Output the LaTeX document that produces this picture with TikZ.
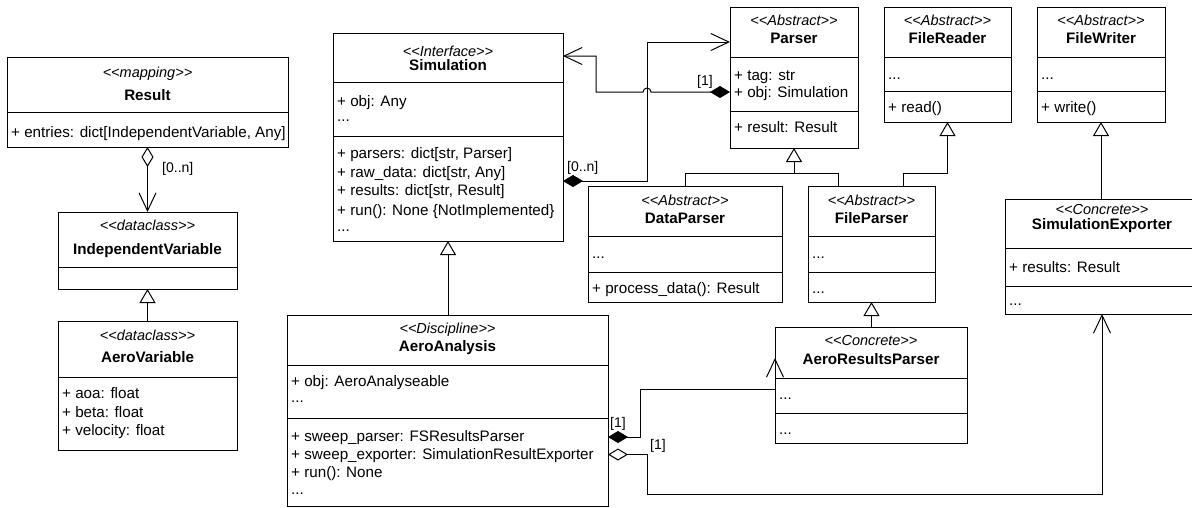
\documentclass[tikz,border=0pt]{standalone}
\usepackage{fontspec}
\setmainfont{Liberation Sans}
\usetikzlibrary{arrows.meta,calc}

\newcommand\fs{\fontsize{15.2}{18}\selectfont}
% kerns keep the font mapping from joining << and >> into guillemets
\newcommand\umlst[1]{\textless\kern0pt\textless#1\textgreater\kern0pt\textgreater}

\tikzset{
  classbox/.style={draw, line width=1pt, fill=white, inner sep=0pt, outer sep=0pt, anchor=north west},
  divider/.style={line width=1pt},
  stereo/.style={anchor=base, inner sep=0pt, font=\fontsize{14.5}{17}\selectfont\itshape},
  title/.style={anchor=base, inner sep=0pt, font=\fs\bfseries},
  member/.style={anchor=base west, inner sep=0pt, font=\fs},
  mult/.style={anchor=base west, inner sep=0pt, font=\fontsize{14}{16}\selectfont},
  link/.style={line width=1pt},
  inherit/.style={link, -{Triangle[open, length=14pt, width=16pt]}},
  comp/.style={link, {Diamond[length=20pt, width=12pt]}-{Straight Barb[length=18pt, width=17pt]}},
  aggr/.style={link, {Diamond[open, length=20pt, width=12pt]}-{Straight Barb[length=18pt, width=17pt]}},
}

% class frame: name, x1, y1, x2, y2, compartment dividers
\newcommand\umlclass[6]{%
  \node[classbox, minimum width={#4-#2}, minimum height={#5-#3}] (#1) at (#2,#3) {};
  \foreach \d in {#6} {\draw[divider] (#2,\d) -- (#4,\d);}
}

\begin{document}
\begin{tikzpicture}[x=1pt, y=-1pt]
\useasboundingbox (0,0) rectangle (1192,507);

% ---------- Result ----------
\umlclass{result}{7}{57}{288}{147}{112}
\node[stereo] (result-st) at (147.5,77) {\umlst{mapping}};
\node[title] (result-t) at (147.5,100) {Result};
\node[member] (result-a1) at (11,137) {+ entries: dict[IndependentVariable, Any]};

% ---------- IndependentVariable ----------
\umlclass{indep}{58}{212}{237}{289}{267}
\node[stereo] (indep-st) at (147.5,230) {\umlst{dataclass}};
\node[title] (indep-t) at (147.5,254) {IndependentVariable};

% ---------- AeroVariable ----------
\umlclass{aerovar}{58}{321}{237}{450}{377}
\node[stereo] (aerovar-st) at (147.5,340) {\umlst{dataclass}};
\node[title] (aerovar-t) at (147.5,362) {AeroVariable};
\node[member] (aerovar-a1) at (62,398) {+ aoa: float};
\node[member] (aerovar-a2) at (62,417) {+ beta: float};
\node[member] (aerovar-a3) at (62,435) {+ velocity: float};

% ---------- Simulation ----------
\umlclass{sim}{333}{33}{563}{241}{82,136}
\node[stereo] (sim-st) at (448,56) {\umlst{Interface}};
\node[title] (sim-t) at (448,70) {Simulation};
\node[member] (sim-a1) at (337,106) {+ obj: Any};
\node[member] (sim-a2) at (337,121) {...};
\node[member] (sim-m1) at (337,158) {+ parsers: dict[str, Parser]};
\node[member] (sim-m2) at (337,177) {+ raw\_data: dict[str, Any]};
\node[member] (sim-m3) at (337,195) {+ results: dict[str, Result]};
\node[member] (sim-m4) at (337,215) {+ run(): None \{NotImplemented\}};
\node[member] (sim-m5) at (337,231) {...};

% ---------- Parser ----------
\umlclass{parser}{730}{7}{858}{148}{57,111}
\node[stereo] (parser-st) at (794,25) {\umlst{Abstract}};
\node[title] (parser-t) at (794,43) {Parser};
\node[member] (parser-a1) at (734,80) {+ tag: str};
\node[member] (parser-a2) at (734,97) {+ obj: Simulation};
\node[member] (parser-m1) at (734,132) {+ result: Result};

% ---------- FileReader ----------
\umlclass{freader}{884}{7}{1011}{122}{57,91}
\node[stereo] (freader-st) at (947.5,25) {\umlst{Abstract}};
\node[title] (freader-t) at (947.5,43) {FileReader};
\node[member] (freader-a1) at (888,79) {...};
\node[member] (freader-m1) at (888,112) {+ read()};

% ---------- FileWriter ----------
\umlclass{fwriter}{1037}{7}{1165}{122}{57,91}
\node[stereo] (fwriter-st) at (1101,25) {\umlst{Abstract}};
\node[title] (fwriter-t) at (1101,43) {FileWriter};
\node[member] (fwriter-a1) at (1041,79) {...};
\node[member] (fwriter-m1) at (1041,112) {+ write()};

% ---------- DataParser ----------
\umlclass{dparser}{588}{186}{782}{302}{236,272}
\node[stereo] (dparser-st) at (685,205) {\umlst{Abstract}};
\node[title] (dparser-t) at (685,223) {DataParser};
\node[member] (dparser-a1) at (592,258) {...};
\node[member] (dparser-m1) at (592,293) {+ process\_data(): Result};

% ---------- FileParser ----------
\umlclass{fparser}{808}{186}{935}{302}{236,272}
\node[stereo] (fparser-st) at (871.5,205) {\umlst{Abstract}};
\node[title] (fparser-t) at (871.5,223) {FileParser};
\node[member] (fparser-a1) at (812,258) {...};
\node[member] (fparser-m1) at (812,293) {...};

% ---------- SimulationExporter ----------
\umlclass{simexp}{1005}{199}{1199}{314}{248,286}
\node[stereo] (simexp-st) at (1102,214.5) {\umlst{Concrete}};
\node[title] (simexp-t) at (1102,229) {SimulationExporter};
\node[member] (simexp-a1) at (1009,272) {+ results: Result};
\node[member] (simexp-m1) at (1009,305) {...};

% ---------- AeroResultsParser ----------
\umlclass{arp}{775}{327}{967}{443}{378,413}
\node[stereo] (arp-st) at (871,345.5) {\umlst{Concrete}};
\node[title] (arp-t) at (871,364) {AeroResultsParser};
\node[member] (arp-a1) at (779,399) {...};
\node[member] (arp-m1) at (779,434) {...};

% ---------- AeroAnalysis ----------
\umlclass{aero}{287}{315}{608}{506}{365,418}
\node[stereo] (aero-st) at (447.5,333) {\umlst{Discipline}};
\node[title] (aero-t) at (447.5,351) {AeroAnalysis};
\node[member] (aero-a1) at (291,386) {+ obj: AeroAnalyseable};
\node[member] (aero-a2) at (291,402) {...};
\node[member] (aero-m1) at (291,441) {+ sweep\_parser: FSResultsParser};
\node[member] (aero-m2) at (291,459) {+ sweep\_exporter: SimulationResultExporter};
\node[member] (aero-m3) at (291,477) {+ run(): None};
\node[member] (aero-m4) at (291,494) {...};

% ---------- generalisations ----------
\draw[inherit] (aerovar.north) -- (indep.south);
\draw[inherit] (aero.north -| sim.south) -- (sim.south);
\draw[inherit] (dparser.north) |- (794,173) -- (parser.south);
\draw[link] ($(fparser.north west)+(30,0)$) |- (794,173);
\draw[inherit] ($(fparser.north west)+(95,0)$) |- ($(freader.south)+(0,51)$) -- (freader.south);
\draw[inherit] (fwriter.south |- simexp.north) -- (fwriter.south);
\draw[inherit] (fparser.south |- arp.north) -- (fparser.south);

% ---------- associations ----------
\draw[aggr] (result.south) -- (indep.north);
\node[mult] (result-mult) at (162,172) {[0..n]};

\coordinate (hop) at (647,92);
\draw[comp] ($(parser.north west)+(0,85)$) -- ($(hop)+(4,0)$)
  arc[start angle=0, end angle=-180, radius=4] -- (596,92)
  |- ($(sim.north east)+(0,23)$);
\node[mult] (parser-mult) at (697,85) {[1]};

\draw[comp] ($(sim.north east)+(0,148)$) -| (647,42) -- ($(parser.north west)+(0,35)$);
\node[mult] (sim-mult) at (567,171) {[0..n]};

\draw[comp] ($(aero.north east)+(0,122)$) -| (640,389) -- ($(arp.north west)+(0,62)$)
  -- ($(arp.north west)+(0,31)$);
\node[mult] (aero-mult1) at (610,427) {[1]};

\draw[aggr] ($(aero.north east)+(0,139.5)$) -| (647,494) -| (simexp.south);
\node[mult] (aero-mult2) at (650,449) {[1]};

\end{tikzpicture}
\end{document}
